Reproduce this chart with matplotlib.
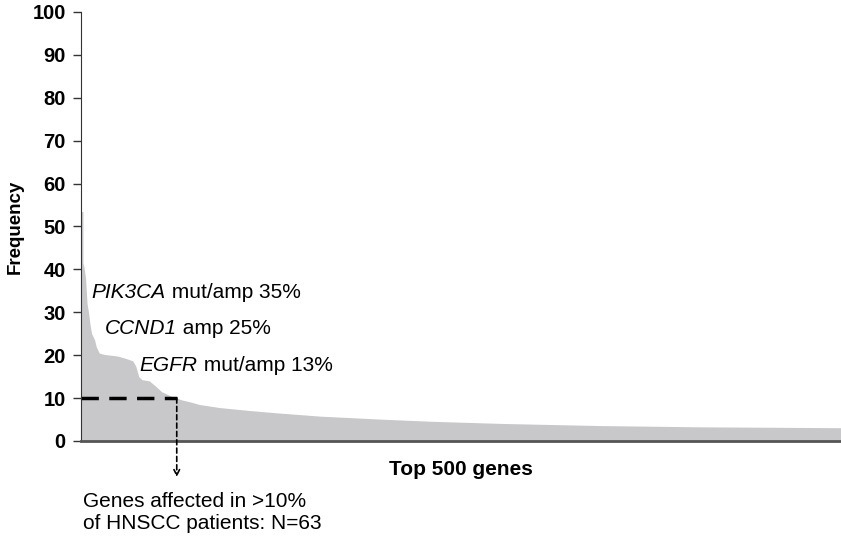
import matplotlib
matplotlib.use("Agg")
import matplotlib.pyplot as plt

plt.rcParams['font.family'] = ['Liberation Sans', 'DejaVu Sans']

# gene rank (sorted) and frequency (% of patients)
ranks = [0, 1.3, 1.3, 2, 3, 4, 5, 6, 7, 8, 9, 10, 12, 15, 24, 29, 34, 36, 38,
         40, 45, 49, 53, 59, 63, 66, 72, 78, 91, 111, 131, 157, 197, 230, 276,
         341, 407, 500]
freq = [53.5, 53.5, 41.5, 40.5, 38, 32, 29.8, 27, 25, 24.3, 23.5, 22, 20.5,
        20.2, 19.8, 19.3, 18.7, 17.5, 15, 14.3, 14.0, 12.8, 11.5, 10.5, 10,
        9.6, 9.1, 8.5, 7.8, 7.1, 6.5, 5.8, 5.1, 4.6, 4.1, 3.6, 3.3, 3.1]

yticks = [0, 10, 20, 30, 40, 50, 60, 70, 80, 90, 100]
n_cut = 63
cut_level = 10
genes = ['PIK3CA', 'CCND1', 'EGFR']
gene_notes = ['mut/amp 35%', 'amp 25%', 'mut/amp 13%']
note_x = [7.0, 16.0, 38.5]
note_y = [34.5, 26.3, 17.7]

fig = plt.figure(figsize=(8.41, 5.38), dpi=100)
ax = fig.add_axes([0.0963, 0.1803, 0.9037, 0.7974])

ax.fill_between(ranks, freq, 0, color='#c8c8ca', linewidth=0)

ax.set_xlim(0, 500)
ax.set_ylim(0, 100)
ax.set_yticks(yticks)
ax.set_xticks([])
for lab in ax.get_yticklabels():
    lab.set_fontweight('bold')
ax.tick_params(axis='y', labelsize=14.5, length=6, width=1, color='#333333', pad=5)
ax.spines['top'].set_visible(False)
ax.spines['right'].set_visible(False)
ax.spines['left'].set_color('#333333')
ax.spines['bottom'].set_color('#555555')
ax.spines['bottom'].set_linewidth(2)

ax.set_ylabel('Frequency', fontsize=13.5, fontweight='bold', labelpad=6)
ax.set_xlabel('Top 500 genes', fontsize=15, fontweight='bold', labelpad=14)

# threshold line
ax.plot([0, n_cut], [cut_level, cut_level], color='black', lw=2.5,
        dashes=(5, 3), solid_capstyle='butt')
ax.annotate('', xy=(n_cut, -8.4), xytext=(n_cut, cut_level),
            arrowprops=dict(arrowstyle='->', color='black', lw=1.2,
                            linestyle=(0, (3, 2)), shrinkA=0, shrinkB=0),
            annotation_clip=False)

for g, note, x, y in zip(genes, gene_notes, note_x, note_y):
    t = ax.text(x, y, g, fontsize=15, style='italic', va='center', ha='left')
    ax.annotate(' ' + note, xy=(1, 0), xycoords=t, fontsize=15,
                va='bottom', ha='left')

ax.text(1.5, -12.0, 'Genes affected in >10%\nof HNSCC patients: N=63',
        fontsize=15, va='top', ha='left', linespacing=1.15)

fig.savefig('out.png', dpi=100)
